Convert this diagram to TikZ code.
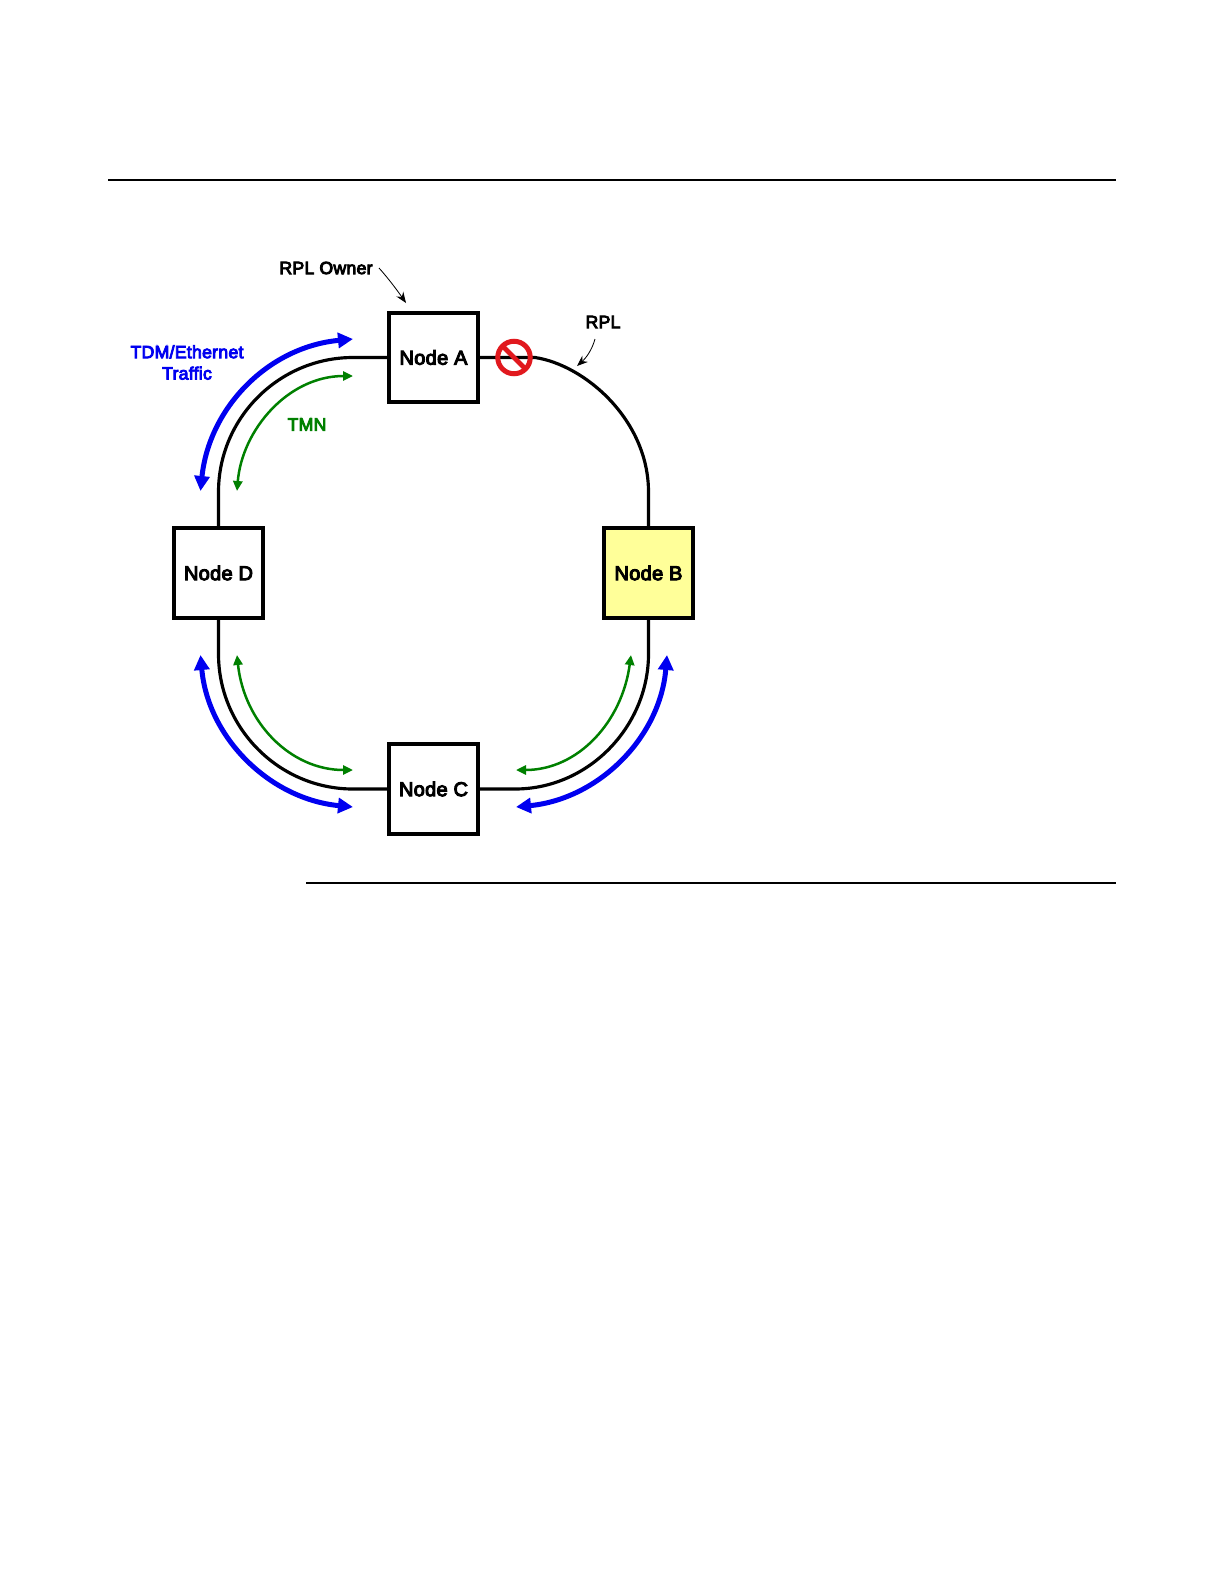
\documentclass[tikz,border=0pt]{standalone}
\usepackage{fontspec}
\setmainfont{Liberation Sans}[FakeBold=5,LetterSpace=1.5]
\usetikzlibrary{arrows.meta}
\definecolor{trafficblue}{RGB}{0,0,240}
\definecolor{tmngreen}{RGB}{0,128,0}
\definecolor{nodeyellow}{RGB}{255,255,153}
\definecolor{signred}{RGB}{225,25,30}
\tikzset{
  x=0.6pt,y=-0.6pt,
  nodebox/.style={draw=black,line width=2.3pt,fill=white,minimum width=53.6pt,minimum height=53.6pt,inner sep=0pt,font=\fontsize{12}{14}\selectfont},
  link/.style={draw=black,line width=1.9pt},
  traffic/.style={draw=trafficblue,line width=3pt,{Stealth[length=9pt,width=9pt,inset=0pt]}-{Stealth[length=9pt,width=9pt,inset=0pt]}},
  tmn/.style={draw=tmngreen,line width=1.5pt,{Stealth[length=6pt,width=5.5pt,inset=0pt]}-{Stealth[length=6pt,width=5.5pt,inset=0pt]}},
  pointer/.style={draw=black,line width=0.5pt,-{Stealth[length=6.5pt,width=5pt]}},
  lbl/.style={inner sep=0pt,font=\fontsize{10.6}{13}\selectfont,align=center},
  rulerline/.style={draw=black,line width=1.2pt}
}
\begin{document}
\begin{tikzpicture}
\useasboundingbox (0,0) rectangle (1224,1584);
% page rules
\coordinate (r1a) at (108,180);
\coordinate (r1b) at (1116,180);
\coordinate (r2a) at (306,883);
\coordinate (r2b) at (1116,883);
\draw[rulerline] (r1a) -- (r1b);
\draw[rulerline] (r2a) -- (r2b);
% nodes
\node[nodebox] (A) at (433.5,357.5) {Node A};
\node[nodebox,fill=nodeyellow] (B) at (648.5,573) {Node B};
\node[nodebox] (C) at (433.5,789) {Node C};
\node[nodebox] (D) at (218.5,573) {Node D};
% ring
\coordinate (a1) at (353,357.5);
\coordinate (d1) at (218.5,492);
\coordinate (a2) at (535,357.5);
\coordinate (b1) at (648.5,492);
\coordinate (b2) at (648.5,654);
\coordinate (c2) at (515,789);
\coordinate (d2) at (218.5,654);
\coordinate (c1) at (353,789);
\draw[link] (A.west) -- (a1) .. controls (279,357.5) and (218.5,418) .. (d1) -- (D.north);
\draw[link] (A.east) -- (a2) .. controls (585,365) and (648.5,420) .. (b1) -- (B.north);
\draw[link] (B.south) -- (b2) .. controls (648.5,726) and (589,789) .. (c2) -- (C.east);
\draw[link] (D.south) -- (d2) .. controls (218.5,728) and (279,789) .. (c1) -- (C.west);
% traffic arrows
\coordinate (tb1) at (353,339);
\coordinate (tb2) at (200.5,491);
\coordinate (tb3) at (667,655);
\coordinate (tb4) at (516,807);
\coordinate (tb5) at (200.5,655);
\coordinate (tb6) at (353,807);
\draw[traffic] (tb1) .. controls (268,347) and (209,408) .. (tb2);
\draw[traffic] (tb3) .. controls (660,738) and (598,799) .. (tb4);
\draw[traffic] (tb5) .. controls (208,738) and (270,799) .. (tb6);
% TMN arrows
\coordinate (tg1) at (353,376);
\coordinate (tg2) at (237,491);
\coordinate (tg3) at (631,655);
\coordinate (tg4) at (516,770);
\coordinate (tg5) at (237,655);
\coordinate (tg6) at (353,770);
\draw[tmn] (tg1) .. controls (288,376) and (242,430) .. (tg2);
\draw[tmn] (tg3) .. controls (622,722) and (578,770) .. (tg4);
\draw[tmn] (tg5) .. controls (244,722) and (290,770) .. (tg6);
% labels
\node[lbl] (owner) at (326,268) {RPL Owner};
\node[lbl] (rpl) at (603,322) {RPL};
\node[lbl,text=trafficblue] (tdm) at (187,362.5) {TDM/Ethernet\\[-0.2pt]Traffic};
\node[lbl,text=tmngreen] (tmnl) at (307,424.5) {TMN};
% pointers
\coordinate (op) at (379,268);
\coordinate (oq) at (406,303);
\coordinate (rp) at (595,339);
\coordinate (rq) at (577,366);
\draw[pointer] (op) .. controls (388,278) and (397,290) .. (oq);
\draw[pointer] (rp) .. controls (592,350) and (586,358) .. (rq);
% no-entry sign
\node[circle,draw=signred,line width=3pt,fill=none,minimum size=19.5pt,inner sep=0pt] (sign) at (514,357.5) {};
\draw[signred,line width=2.9pt] (503,346.5) -- (525,368.5);
\end{tikzpicture}
\end{document}
